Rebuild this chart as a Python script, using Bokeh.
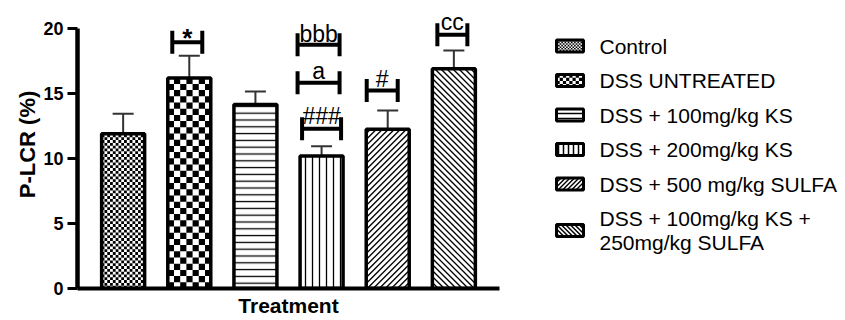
import numpy as np
from bokeh.plotting import figure
from bokeh.layouts import row
from bokeh.models import Range1d, FixedTicker, ColumnDataSource
from bokeh.embed import file_html
from bokeh.resources import INLINE
from bokeh.core.properties import value

# ---- data -------------------------------------------------------------
groups = ["Control", "DSS UNTREATED", "DSS + 100mg/kg KS", "DSS + 200mg/kg KS",
          "DSS + 500 mg/kg SULFA", "DSS + 100mg/kg KS +\n250mg/kg SULFA"]
means = [11.9, 16.2, 14.15, 10.2, 12.25, 16.9]
sems = [1.55, 1.7, 1.0, 0.75, 1.45, 1.4]

# significance marks: group index, label, bracket level (axis units)
sig_group = [1, 3, 3, 3, 4, 5]
sig_text = ["*", "bbb", "a", "###", "#", "cc"]
sig_level = [18.95, 18.75, 15.82, 12.28, 15.23, 19.52]

y_ticks = [0, 5, 10, 15, 20]

# ---- layout / style ---------------------------------------------------
FONT = "Liberation Sans"
X_LO, X_HI = -0.69, 5.69
FRAME_W, FRAME_H = 422, 288
PX_X = FRAME_W / (X_HI - X_LO)      # pixels per category step
PX_Y = 13.0                          # pixels per y unit
Y_HI = FRAME_H / PX_Y
BAR_W = 0.65

# bracket geometry in pixels (x offset from bar centre, half width, text rise)
sig_dx = [-2, -3, -3, 0, -5.5, -1.5]
sig_hw = [15, 21, 21, 19.5, 15.5, 15]
sig_rise = [4.5, 11, 11.6, 13, 11.7, 12.6]
sig_style = ["bold", "normal", "normal", "normal", "normal", "normal"]
sig_size = ["26px", "23px", "23px", "23px", "23px", "23px"]

# fill patterns: checkerboards, bokeh hatches, or drawn 45-degree diagonals
patterns = ["checker", "checker", "horizontal_line", "vertical_line", "diag_up", "diag_down"]
checker_px = [2.8, 6.2, 0, 0, 0, 0]
hatch_scale = [6, 6, 6.8, 7, 6, 6]
DIAG_STEP = 6.0   # horizontal spacing of diagonal lines, px

xs = np.arange(len(groups), dtype=float)
means_a = np.array(means)
sems_a = np.array(sems)


def checker_cells(x0, x1, y0, y1, cw, ch):
    """Black squares of a checkerboard filling the box [x0,x1]x[y0,y1]."""
    L, R, B, T = [], [], [], []
    nx = int(np.ceil((x1 - x0) / cw))
    ny = int(np.ceil((y1 - y0) / ch))
    for i in range(nx):
        for j in range(ny):
            if (i + j) % 2 == 0:
                L.append(x0 + i * cw)
                R.append(min(x0 + (i + 1) * cw, x1))
                B.append(y0 + j * ch)
                T.append(min(y0 + (j + 1) * ch, y1))
    return L, R, B, T


def diagonal_lines(x0, x1, y0, y1, step, up=True):
    """45-degree lines clipped to the box (coordinates in pixels, y upwards)."""
    X0, Y0, X1, Y1 = [], [], [], []
    if up:   # y = x + k
        k = np.arange(y0 - x1, y1 - x0 + step, step)
        for kk in k:
            a, b = max(x0, y0 - kk), min(x1, y1 - kk)
            if a < b:
                X0.append(a); Y0.append(a + kk); X1.append(b); Y1.append(b + kk)
    else:    # y = -x + k
        k = np.arange(x0 + y0, x1 + y1 + step, step)
        for kk in k:
            a, b = max(x0, kk - y1), min(x1, kk - y0)
            if a < b:
                X0.append(a); Y0.append(kk - a); X1.append(b); Y1.append(kk - b)
    return X0, Y0, X1, Y1


p = figure(width=520, height=320, output_backend="svg", toolbar_location=None,
           x_range=Range1d(X_LO, X_HI), y_range=Range1d(0, Y_HI),
           min_border_left=77, min_border_right=21, min_border_top=0,
           min_border_bottom=32)
p.outline_line_color = None
p.grid.visible = False
p.background_fill_color = "white"

# y axis
ya = p.yaxis[0]
ya.ticker = FixedTicker(ticks=y_ticks)
ya.bounds = (0, 20)
ya.axis_line_width = 4.5
ya.major_tick_line_width = 3
ya.major_tick_in = 0
ya.major_tick_out = 10
ya.minor_tick_line_color = None
ya.major_label_standoff = 4
ya.major_label_text_font = FONT
ya.major_label_text_font_size = "18px"
ya.major_label_text_font_style = "bold"
ya.major_label_text_color = "black"
ya.axis_label = "P-LCR (%)"
ya.axis_label_text_font = FONT
ya.axis_label_text_font_size = "22px"
ya.axis_label_text_font_style = "bold"
ya.axis_label_text_color = "black"
ya.axis_label_standoff = 0

# x axis
xa = p.xaxis[0]
xa.ticker = FixedTicker(ticks=[])
xa.axis_line_width = 4
xa.major_tick_out = 0
xa.major_tick_in = 0
xa.minor_tick_line_color = None
xa.major_label_standoff = 0
xa.axis_label = "Treatment"
xa.axis_label_text_font = FONT
xa.axis_label_text_font_size = "21px"
xa.axis_label_text_font_style = "bold"
xa.axis_label_text_color = "black"
xa.axis_label_standoff = 5

# bar fills with bokeh hatching
hatch_src = ColumnDataSource(dict(
    x=xs, top=means_a,
    hatch=[pt if pt in ("horizontal_line", "vertical_line") else "blank" for pt in patterns],
    scale=hatch_scale))
p.vbar(x="x", top="top", width=BAR_W, bottom=0, source=hatch_src,
       fill_color="white", line_color=None, hatch_pattern="hatch",
       hatch_scale="scale", hatch_weight=1.3, hatch_color="black")

# checkerboard and diagonal fills
for i, pt in enumerate(patterns):
    if pt == "checker":
        cw = checker_px[i] / PX_X
        ch = checker_px[i] / PX_Y
        L, R, B, T = checker_cells(xs[i] - BAR_W / 2, xs[i] + BAR_W / 2, 0, means[i], cw, ch)
        p.quad(left=L, right=R, bottom=B, top=T, fill_color="black", line_color=None)
    elif pt.startswith("diag"):
        bx0 = (xs[i] - BAR_W / 2) * PX_X
        bx1 = (xs[i] + BAR_W / 2) * PX_X
        X0, Y0, X1, Y1 = diagonal_lines(bx0, bx1, 0, means[i] * PX_Y, DIAG_STEP,
                                        up=(pt == "diag_up"))
        p.segment(x0=np.array(X0) / PX_X, y0=np.array(Y0) / PX_Y,
                  x1=np.array(X1) / PX_X, y1=np.array(Y1) / PX_Y,
                  line_color="black", line_width=1.3)

# error bars (upper only)
cap = 10.5 / PX_X
p.segment(x0=xs, y0=means_a, x1=xs, y1=means_a + sems_a, line_color="#333333", line_width=2)
p.segment(x0=xs - cap, y0=means_a + sems_a, x1=xs + cap, y1=means_a + sems_a,
          line_color="#333333", line_width=2)

# bar outlines
p.vbar(x=xs, top=means_a, width=BAR_W, bottom=0, fill_alpha=0,
       line_color="black", line_width=3.5)

# significance brackets
sx = np.array([xs[g] for g in sig_group]) + np.array(sig_dx) / PX_X
hw = np.array(sig_hw) / PX_X
lv = np.array(sig_level)
tick = 11.5 / PX_Y
p.segment(x0=sx - hw, y0=lv, x1=sx + hw, y1=lv, line_color="black", line_width=4)
p.segment(x0=np.r_[sx - hw, sx + hw], y0=np.r_[lv - tick, lv - tick],
          x1=np.r_[sx - hw, sx + hw], y1=np.r_[lv + tick, lv + tick],
          line_color="black", line_width=4)
sig_src = ColumnDataSource(dict(x=sx, y=lv + np.array(sig_rise) / PX_Y, text=sig_text,
                                style=sig_style, size=sig_size))
p.text(x="x", y="y", text="text", source=sig_src,
       text_align="center", text_baseline="alphabetic",
       text_font=value(FONT), text_font_size="size", text_font_style="style",
       text_color="black")

# ---- legend panel (pixel coordinates, y downwards) --------------------
LG_W, LG_H = 325, 320
lg = figure(frame_width=LG_W, frame_height=LG_H, output_backend="svg",
            toolbar_location=None, x_axis_location=None, y_axis_location=None,
            x_range=Range1d(0, LG_W), y_range=Range1d(LG_H, 0),
            min_border=0, min_border_left=0, min_border_right=0,
            min_border_top=0, min_border_bottom=0)
lg.grid.visible = False
lg.outline_line_color = None

row_y = [45.5, 80, 114.5, 149, 183.5, 230]
sw_x, sw_w, sw_h = 49.5, 27, 12
lg_hatch = ColumnDataSource(dict(
    x=[sw_x] * len(groups), y=row_y,
    hatch=[pt if pt in ("horizontal_line", "vertical_line") else "blank" for pt in patterns]))
lg.rect(x="x", y="y", width=sw_w, height=sw_h, source=lg_hatch,
        fill_color="white", line_color=None, hatch_pattern="hatch",
        hatch_scale=5, hatch_weight=1.5, hatch_color="black")
for i, pt in enumerate(patterns):
    sx0, sx1 = sw_x - sw_w / 2, sw_x + sw_w / 2
    sy0, sy1 = row_y[i] - sw_h / 2, row_y[i] + sw_h / 2
    if pt == "checker":
        c = [1.6, 3.2][i]
        L, R, B, T = checker_cells(sx0, sx1, sy0, sy1, c, c)
        lg.quad(left=L, right=R, bottom=B, top=T, fill_color="black", line_color=None)
    elif pt.startswith("diag"):
        # y axis points down here, so the slope direction flips
        X0, Y0, X1, Y1 = diagonal_lines(sx0, sx1, sy0, sy1, 4.5, up=(pt != "diag_up"))
        lg.segment(x0=X0, y0=Y0, x1=X1, y1=Y1, line_color="black", line_width=1.5)
lg.rect(x=[sw_x] * len(groups), y=row_y, width=sw_w, height=sw_h,
        fill_alpha=0, line_color="black", line_width=3)

tx, ty, tt = [], [], []
for name, yc in zip(groups, row_y):
    lines = name.split("\n")
    n = len(lines)
    for k, ln in enumerate(lines):
        tx.append(79)
        ty.append(yc + (k - (n - 1) / 2) * 24)
        tt.append(ln)
lg.text(x=tx, y=ty, text=tt, text_align="left", text_baseline="middle",
        text_font=value(FONT), text_font_size="21px", text_color="black")

layout = row(p, lg)
open("out.html", "w").write(file_html(layout, INLINE))
